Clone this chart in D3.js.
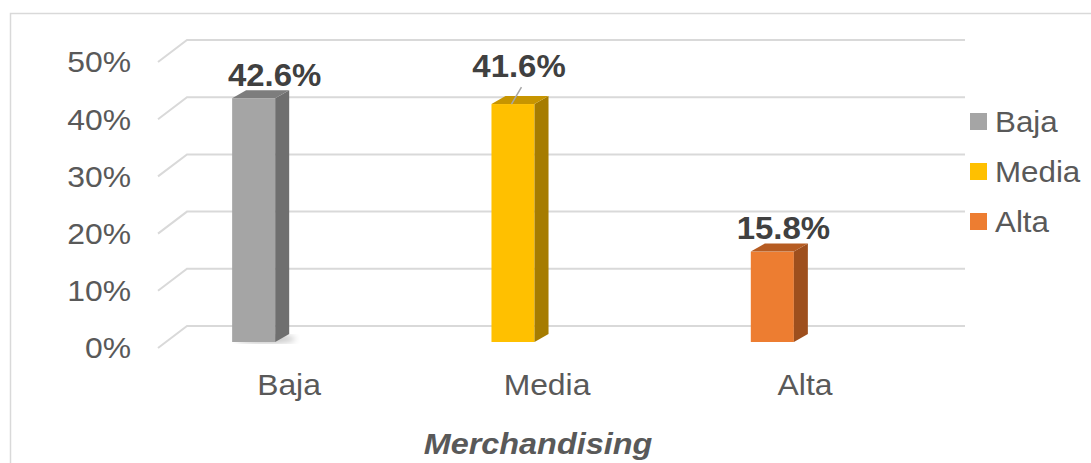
<!DOCTYPE html>
<html>
<head>
<meta charset="utf-8">
<script src="https://cdn.jsdelivr.net/npm/d3@7"></script>
<style>
  body { margin: 0; background: #fff; }
  text { font-family: "Liberation Sans", Arial, sans-serif; }
</style>
</head>
<body>
<div id="chart"></div>
<script>
// data
const categories = ['Baja', 'Media', 'Alta'];
const values = [0.426, 0.416, 0.158];
const yTicks = [0, 0.1, 0.2, 0.3, 0.4, 0.5];
const axisTitle = 'Merchandising';

const colors = {
  Baja: {front: '#a5a5a5', side: '#6f6f6f', top: '#7d7d7d'},
  Media: {front: '#ffc000', side: '#a67c00', top: '#c79500'},
  Alta: {front: '#ed7d31', side: '#9e4f1d', top: '#b65c22'},
};

// label nudges (layout only)
const labelNudge = {Baja: [21, 0], Media: [6, -15], Alta: [11, 0]};

const W = 1091, H = 463;
const depth = {dx: 29, dy: -22};   // floor depth
const barDepth = {dx: 14, dy: -8};
const SX = 1.08; // source text is slightly stretched horizontally

function place(x, y) {
  return `translate(${x},${y}) scale(${SX},1)`;
}

const svg = d3.select('#chart').append('svg')
    .attr('width', W).attr('height', H);

svg.append('rect')
    .attr('x', 10.5).attr('y', 13.5)
    .attr('width', 1200).attr('height', 600)
    .attr('fill', 'none').attr('stroke', '#d9d9d9').attr('stroke-width', 1.5);

// scales
const yBack = d3.scaleLinear().domain([0, 0.5]).range([326, 40]);
const yBar = d3.scaleLinear().domain([0, 0.5]).range([342, 56]);
const xFront = d3.scaleBand().domain(categories).range([158, 932]);
const xBar = d3.scaleBand().domain(categories).range([124, 902])
    .paddingInner(0.834).paddingOuter(0.417);

// gridlines: back wall + side diagonal
const grid = svg.append('g').attr('stroke', '#d9d9d9')
    .attr('stroke-width', 2).attr('fill', 'none');
yTicks.forEach((t) => {
  const yb = yBack(t);
  grid.append('path')
      .attr('d', d3.line()([[158, yb - depth.dy], [158 + depth.dx, yb], [965, yb]]));
});

// y tick labels
svg.append('g').selectAll('text')
    .data(yTicks).enter()
    .append('text')
    .attr('transform', (d) => place(131, yBack(d) - depth.dy))
    .attr('dy', '0.35em')
    .attr('text-anchor', 'end')
    .attr('font-size', 29.5)
    .attr('fill', '#595959')
    .text((d) => d3.format('.0%')(d));

// shadow under gray bar
const defs = svg.append('defs');
defs.append('filter').attr('id', 'blur')
    .append('feGaussianBlur').attr('stdDeviation', 3);

// bars
const bars = svg.append('g').selectAll('g')
    .data(categories.map((c, i) => ({cat: c, v: values[i]})))
    .enter().append('g');

bars.filter((d) => d.cat === 'Baja').append('ellipse')
    .attr('cx', (d) => xBar(d.cat) + xBar.bandwidth() / 2 + 12)
    .attr('cy', yBar(0) - 3)
    .attr('rx', 30).attr('ry', 4)
    .attr('fill', '#000').attr('opacity', 0.25)
    .attr('filter', 'url(#blur)');

bars.append('rect')
    .attr('x', (d) => xBar(d.cat))
    .attr('y', (d) => yBar(d.v))
    .attr('width', xBar.bandwidth())
    .attr('height', (d) => yBar(0) - yBar(d.v))
    .attr('fill', (d) => colors[d.cat].front);

bars.append('path')
    .attr('fill', (d) => colors[d.cat].side)
    .attr('d', (d) => {
      const x1 = xBar(d.cat) + xBar.bandwidth();
      const y0 = yBar(0), y1 = yBar(d.v);
      return d3.line()([[x1, y0], [x1 + barDepth.dx, y0 + barDepth.dy],
        [x1 + barDepth.dx, y1 + barDepth.dy], [x1, y1]]) + 'Z';
    });

bars.append('path')
    .attr('fill', (d) => colors[d.cat].top)
    .attr('d', (d) => {
      const x0 = xBar(d.cat), x1 = x0 + xBar.bandwidth();
      const y1 = yBar(d.v);
      return d3.line()([[x0, y1], [x0 + barDepth.dx, y1 + barDepth.dy],
        [x1 + barDepth.dx, y1 + barDepth.dy], [x1, y1]]) + 'Z';
    });

// leader line for Media label
bars.filter((d) => d.cat === 'Media').append('line')
    .attr('x1', (d) => xBar(d.cat) + 20).attr('y1', (d) => yBar(d.v))
    .attr('x2', (d) => xBar(d.cat) + 30).attr('y2', (d) => yBar(d.v) - 17)
    .attr('stroke', '#a6a6a6').attr('stroke-width', 1.5);

// data labels
bars.append('text')
    .attr('transform', (d) => place(
        xBar(d.cat) + xBar.bandwidth() / 2 + labelNudge[d.cat][0],
        yBar(d.v) - 23 + labelNudge[d.cat][1]))
    .attr('dy', '0.35em')
    .attr('text-anchor', 'middle')
    .attr('font-size', 30.5)
    .attr('font-weight', 'bold')
    .attr('fill', '#404040')
    .text((d) => d3.format('.1%')(d.v));

// category labels
svg.append('g').selectAll('text')
    .data(categories).enter()
    .append('text')
    .attr('transform', (d) => place(xFront(d) + xFront.bandwidth() / 2 + 2, 385))
    .attr('dy', '0.35em')
    .attr('text-anchor', 'middle')
    .attr('font-size', 29.5)
    .attr('fill', '#595959')
    .text((d) => d);

svg.append('text')
    .attr('transform', place(538, 443))
    .attr('dy', '0.35em')
    .attr('text-anchor', 'middle')
    .attr('font-size', 30)
    .attr('font-weight', 'bold')
    .attr('font-style', 'italic')
    .attr('fill', '#595959')
    .text(axisTitle);

// legend
const legend = svg.append('g').selectAll('g')
    .data(categories).enter().append('g')
    .attr('transform', (d, i) => `translate(970, ${113 + i * 50})`);
legend.append('rect')
    .attr('width', 17).attr('height', 17)
    .attr('fill', (d) => colors[d].front);
legend.append('text')
    .attr('transform', place(25, 9))
    .attr('dy', '0.35em')
    .attr('font-size', 29)
    .attr('fill', '#595959')
    .text((d) => d);
</script>
</body>
</html>
